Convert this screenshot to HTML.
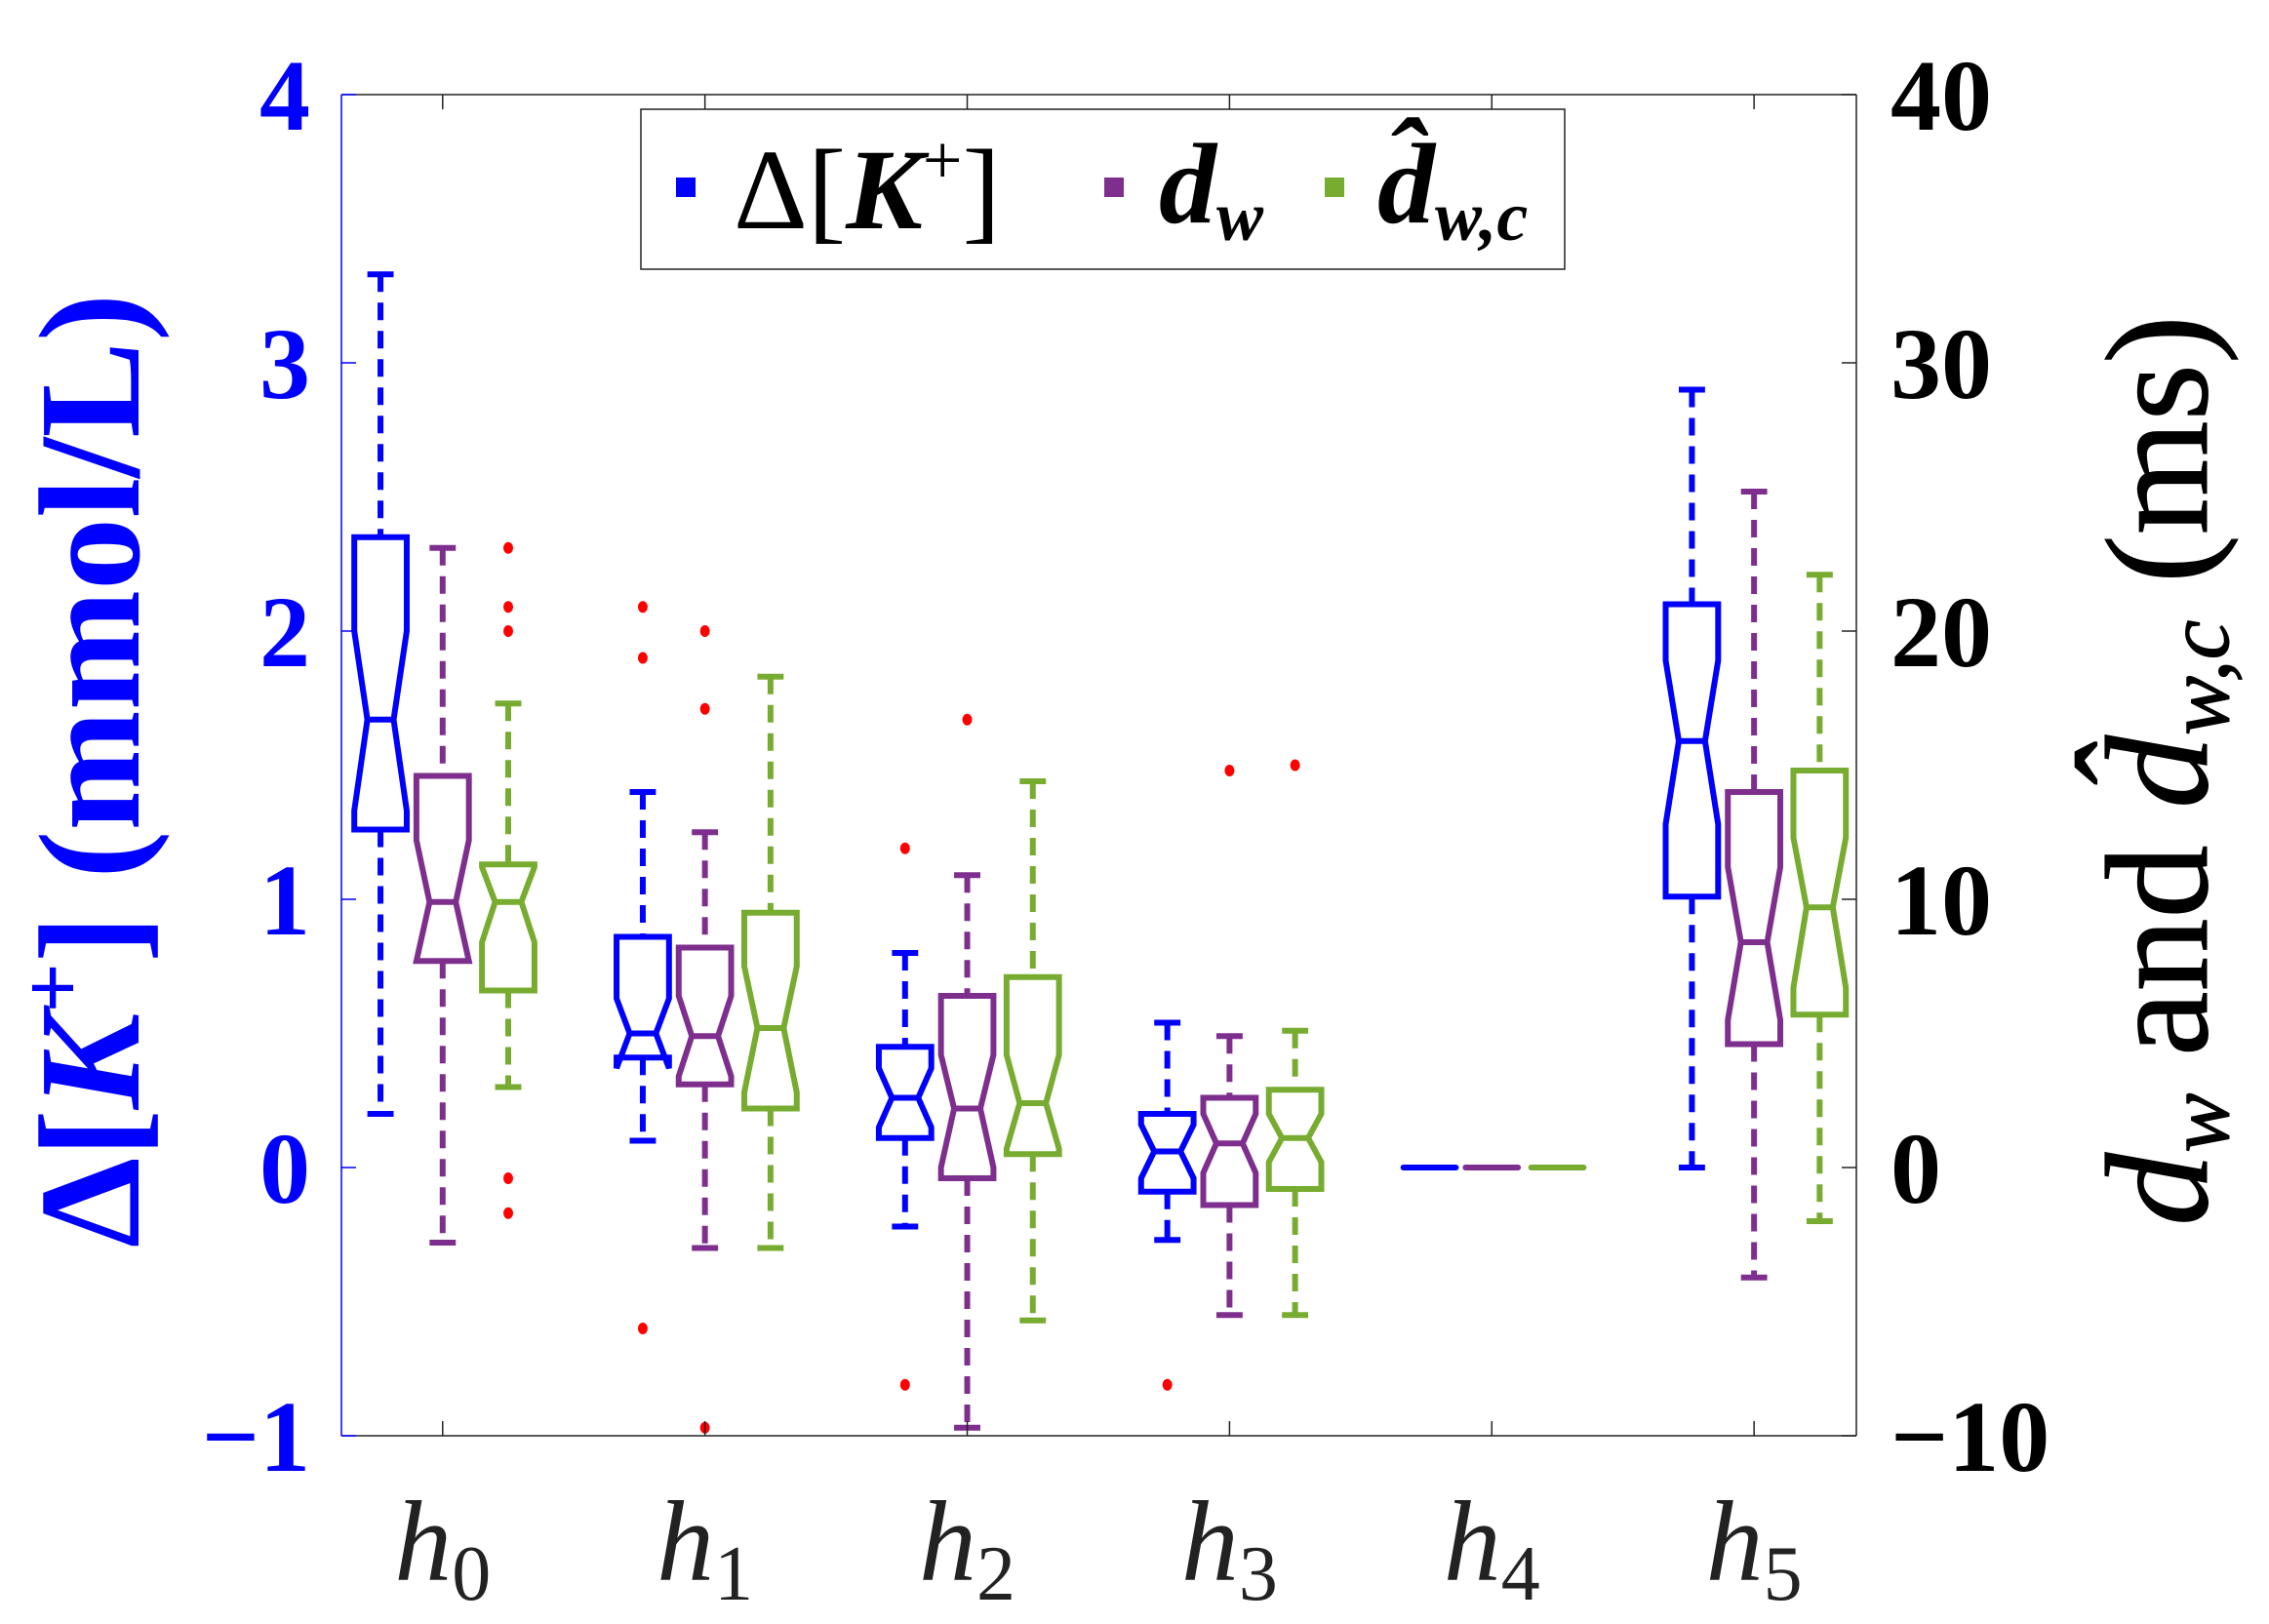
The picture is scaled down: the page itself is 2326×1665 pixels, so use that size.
<!DOCTYPE html>
<html><head><meta charset="utf-8"><style>
html,body{margin:0;padding:0;background:#fff;}
svg{display:block;font-family:"Liberation Serif",serif;}
</style></head><body>
<svg id="chart" width="2326" height="1665" viewBox="0 0 2326 1665" xmlns="http://www.w3.org/2000/svg">
<g id="plot"></g>
<g id="axes"></g>
<g>
  <rect x="657" y="112" width="947" height="164" fill="#fff" stroke="#222" stroke-width="1.5"/>
  <rect x="693" y="182" width="20" height="20" fill="#0000ff"/>
  <text x="752" y="234" font-size="118" fill="#000">Δ[<tspan font-style="italic" font-weight="bold">K</tspan><tspan font-size="72" dy="-46">+</tspan><tspan dy="46">]</tspan></text>
  <rect x="1132" y="182" width="20" height="20" fill="#7e2f8e"/>
  <text x="1188" y="228" font-size="118" font-style="italic" font-weight="bold" fill="#000">d<tspan font-size="72" dy="18">w</tspan></text>
  <rect x="1358" y="182" width="20" height="20" fill="#77ac30"/>
  <text x="1412" y="228" font-size="118" font-style="italic" font-weight="bold" fill="#000">d̂<tspan font-size="72" dy="18">w,c</tspan></text>
</g>
<text transform="translate(142,790) rotate(-90)" text-anchor="middle" font-size="148" font-weight="bold" fill="#0000ff">Δ[<tspan font-style="italic">K</tspan><tspan font-size="90" dy="-58">+</tspan><tspan dy="58">] (mmol/L)</tspan></text>
<text transform="translate(2262,790) rotate(-90)" text-anchor="middle" font-size="150" fill="#000" stroke="#000" stroke-width="1"><tspan font-style="italic">d</tspan><tspan font-size="92" font-style="italic" dy="22">w</tspan><tspan dy="-22"> and </tspan><tspan font-style="italic">d̂</tspan><tspan font-size="92" font-style="italic" dy="22">w,c</tspan><tspan dy="-22"> (ms)</tspan></text>
</svg>
<script>
const groups = ['h0','h1','h2','h3','h4','h5'];
const subs = ['0','1','2','3','4','5'];
const leftTicks = [-1,0,1,2,3,4];
const rightTicks = [-10,0,10,20,30,40];
// per group: [dk, dw, dwc] (left-axis units)
const whiskHi = [[3.33,2.31,1.73],[1.40,1.25,1.83],[0.80,1.09,1.44],[0.54,0.49,0.51],[0,0,0],[2.90,2.52,2.21]];
const q3 = [[2.35,1.46,1.13],[0.86,0.82,0.95],[0.45,0.64,0.71],[0.20,0.26,0.29],[0,0,0],[2.10,1.40,1.48]];
const notchHi = [[2.00,1.22,1.12],[0.63,0.64,0.75],[0.37,0.42,0.42],[0.16,0.20,0.20],[0,0,0],[1.89,1.12,1.23]];
const median = [[1.67,0.99,0.99],[0.50,0.49,0.52],[0.26,0.22,0.24],[0.06,0.09,0.11],[0,0,0],[1.59,0.84,0.97]];
const notchLo = [[1.33,0.77,0.84],[0.37,0.34,0.28],[0.15,0.00,0.07],[-0.04,-0.02,0.02],[0,0,0],[1.28,0.55,0.67]];
const q1 = [[1.26,0.77,0.66],[0.41,0.31,0.22],[0.11,-0.04,0.05],[-0.09,-0.14,-0.08],[0,0,0],[1.01,0.46,0.57]];
const whiskLo = [[0.20,-0.28,0.30],[0.10,-0.30,-0.30],[-0.22,-0.97,-0.57],[-0.27,-0.55,-0.55],[0,0,0],[0,-0.41,-0.20]];
const outliers = [[[],[],[2.31,2.09,2.0,-0.04,-0.17]],[[2.09,1.90,-0.60],[2.0,1.71,-0.97],[]],[[1.19,-0.81],[1.67],[]],[[-0.81],[1.48],[1.50]],[[],[],[]],[[],[],[]]];
const colors = ['#0000ff','#7e2f8e','#77ac30'];
const offsets = [-0.237,0,0.25];

const PL=350, PR=1903, PT=97, PB=1472;
const xMin=0.614, xMax=6.39;
const xs = v => PL + (v-xMin)/(xMax-xMin)*(PR-PL);
const ys = v => PB - (v+1)/5*(PB-PT);
const NS='http://www.w3.org/2000/svg';
function mk(tag, attrs, parent){const e=document.createElementNS(NS,tag);for(const k in attrs)e.setAttribute(k,attrs[k]);parent.appendChild(e);return e;}
const plot=document.getElementById('plot'), axes=document.getElementById('axes');
const bw=0.2, LW=6;
groups.forEach((g,i)=>{
  for(let s=0;s<3;s++){
    const c=colors[s], cx=i+1+offsets[s];
    const gg=mk('g',{},plot);
    
    
    if(i===4){
      mk('line',{x1:xs(cx-bw/2),x2:xs(cx+bw/2),y1:ys(median[i][s]),y2:ys(median[i][s]),stroke:c,'stroke-width':LW,'stroke-linecap':'round'},gg);
      continue;
    }
    const L=xs(cx-bw/2), R=xs(cx+bw/2), nl=xs(cx-bw/4), nr=xs(cx+bw/4);
    mk('line',{x1:xs(cx),x2:xs(cx),y1:ys(whiskHi[i][s]),y2:ys(q3[i][s]),stroke:c,'stroke-width':LW,'stroke-dasharray':'18 11'},gg);
    mk('line',{x1:xs(cx),x2:xs(cx),y1:ys(q1[i][s]),y2:ys(whiskLo[i][s]),stroke:c,'stroke-width':LW,'stroke-dasharray':'18 11'},gg);
    mk('line',{x1:xs(cx-bw/4),x2:xs(cx+bw/4),y1:ys(whiskHi[i][s]),y2:ys(whiskHi[i][s]),stroke:c,'stroke-width':LW},gg);
    mk('line',{x1:xs(cx-bw/4),x2:xs(cx+bw/4),y1:ys(whiskLo[i][s]),y2:ys(whiskLo[i][s]),stroke:c,'stroke-width':LW},gg);
    const pts=[[L,ys(q3[i][s])],[R,ys(q3[i][s])],[R,ys(notchHi[i][s])],[nr,ys(median[i][s])],[R,ys(notchLo[i][s])],[R,ys(q1[i][s])],[L,ys(q1[i][s])],[L,ys(notchLo[i][s])],[nl,ys(median[i][s])],[L,ys(notchHi[i][s])]];
    mk('polygon',{points:pts.map(p=>p.join(',')).join(' '),fill:'none',stroke:c,'stroke-width':LW},gg);
    mk('line',{x1:nl,x2:nr,y1:ys(median[i][s]),y2:ys(median[i][s]),stroke:c,'stroke-width':LW},gg);
    outliers[i][s].forEach(v=>{
      const o=mk('ellipse',{cx:xs(cx),cy:ys(v),rx:5,ry:6,fill:'#ff0000'},gg);
      
      
    });
  }
  mk('line',{x1:xs(i+1),x2:xs(i+1),y1:PB,y2:PB-15,stroke:'#222','stroke-width':1.5},axes);
  mk('line',{x1:xs(i+1),x2:xs(i+1),y1:PT,y2:PT+15,stroke:'#222','stroke-width':1.5},axes);
  const t=mk('text',{x:xs(i+1),y:1620,'text-anchor':'middle','font-size':118,'font-style':'italic',fill:'#222'},axes);
  
  
  t.appendChild(document.createTextNode('h'));
  const sb=mk('tspan',{'font-size':80,dy:20,'font-style':'normal'},t); sb.textContent=subs[i];
});
mk('line',{x1:PL,x2:PR,y1:PT,y2:PT,stroke:'#222','stroke-width':1.5},axes);
mk('line',{x1:PL,x2:PR,y1:PB,y2:PB,stroke:'#222','stroke-width':1.5},axes);
mk('line',{x1:PR,x2:PR,y1:PT,y2:PB,stroke:'#222','stroke-width':1.5},axes);
mk('line',{x1:PL,x2:PL,y1:PT,y2:PB,stroke:'#0000ff','stroke-width':1.5},axes);
leftTicks.forEach(v=>{
  mk('line',{x1:PL,x2:PL+15,y1:ys(v),y2:ys(v),stroke:'#0000ff','stroke-width':1.5},axes);
  const t=mk('text',{x:318,y:ys(v)+36,'text-anchor':'end','font-size':104,'font-weight':'bold',fill:'#0000ff'},axes);
  
  
  t.textContent=v<0?'\u2212'+(-v):String(v);
});
rightTicks.forEach(v=>{
  const yy=ys(v/10);
  mk('line',{x1:PR,x2:PR-15,y1:yy,y2:yy,stroke:'#222','stroke-width':1.5},axes);
  const t=mk('text',{x:1938,y:yy+36,'text-anchor':'start','font-size':104,'font-weight':'bold',fill:'#000'},axes);
  
  
  t.textContent=v<0?'\u2212'+(-v):String(v);
});
</script>
</body></html>
